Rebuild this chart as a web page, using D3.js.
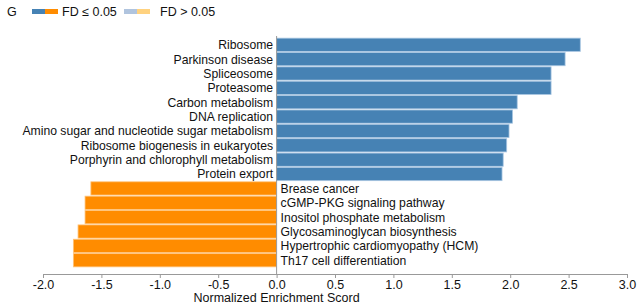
<!DOCTYPE html>
<html>
<head>
<meta charset="utf-8">
<script src="https://cdn.jsdelivr.net/npm/d3@7"></script>
<style>
  body { margin: 0; background: #fff; }
  text { font-family: "Liberation Sans", Arial, sans-serif; }
</style>
</head>
<body>
<div id="chart"></div>
<script>
// pathways, top to bottom
const pathways = [
  "Ribosome", "Parkinson disease", "Spliceosome", "Proteasome",
  "Carbon metabolism", "DNA replication",
  "Amino sugar and nucleotide sugar metabolism",
  "Ribosome biogenesis in eukaryotes",
  "Porphyrin and chlorophyll metabolism", "Protein export",
  "Brease cancer", "cGMP-PKG signaling pathway",
  "Inositol phosphate metabolism", "Glycosaminoglycan biosynthesis",
  "Hypertrophic cardiomyopathy (HCM)", "Th17 cell differentiation"
];
const nes = [
  2.60, 2.47, 2.35, 2.35, 2.06, 2.02, 1.99, 1.97, 1.94, 1.93,
  -1.59, -1.64, -1.64, -1.70, -1.74, -1.74
];
const xTicks = [-2.0, -1.5, -1.0, -0.5, 0.0, 0.5, 1.0, 1.5, 2.0, 2.5, 3.0];
const legendLabels = ["FD \u2264 0.05", "FD > 0.05"];
const legendColors = [["#4682b4", "#ff8c00"], ["#b0c4de", "#ffd27f"]];

const width = 637, height = 307;
const x0 = 43, x1 = 627;     // -2.0 .. 3.0
const yTop = 37, yBottom = 268, axisY = 274;

const data = pathways.map((p, i) => ({ name: p, value: nes[i] }));

const svg = d3.select("#chart").append("svg")
  .attr("width", width)
  .attr("height", height);

const xScale = d3.scaleLinear().domain([-2, 3]).range([x0, x1]);
const yScale = d3.scaleBand().domain(pathways).range([yTop, yBottom]).padding(0.08);

// bars
svg.selectAll(".bar")
  .data(data)
  .enter()
  .append("rect")
  .attr("class", "bar")
  .attr("x", d => xScale(Math.min(0, d.value)))
  .attr("y", d => yScale(d.name))
  .attr("width", d => Math.abs(xScale(d.value) - xScale(0)))
  .attr("height", yScale.bandwidth())
  .attr("fill", d => d.value > 0 ? "#4682b4" : "#ff8c00")
  .attr("stroke", d => d.value > 0 ? "#a9c6e2" : "#ffc37a")
  .attr("stroke-width", 0.8);

// labels next to the zero line
svg.selectAll(".label")
  .data(data)
  .enter()
  .append("text")
  .attr("class", "label")
  .attr("x", d => d.value > 0 ? xScale(0) - 3.5 : xScale(0) + 4)
  .attr("y", d => yScale(d.name) + yScale.bandwidth() / 2)
  .attr("dy", "0.36em")
  .attr("text-anchor", d => d.value > 0 ? "end" : "start")
  .style("font-size", "12.2px")
  .attr("fill", "#111")
  .text(d => d.name);

// zero line
svg.append("line")
  .attr("x1", xScale(0)).attr("x2", xScale(0))
  .attr("y1", yTop - 1).attr("y2", axisY)
  .attr("stroke", "#999")
  .attr("stroke-width", 1);

// x axis
const xAxis = svg.append("g")
  .attr("transform", `translate(0,${axisY})`)
  .call(d3.axisBottom(xScale).tickValues(xTicks).tickFormat(d => d.toFixed(1)).tickSize(4).tickSizeOuter(0));
xAxis.select(".domain").attr("stroke", "#999");
xAxis.selectAll(".tick line").attr("stroke", "#999");
xAxis.selectAll(".tick text")
  .style("font-size", "12.5px")
  .style("font-family", "'Liberation Sans', Arial, sans-serif")
  .attr("fill", "#111")
  .attr("y", 6);

svg.append("text")
  .attr("x", xScale(0))
  .attr("y", 302)
  .attr("text-anchor", "middle")
  .style("font-size", "12.5px")
  .attr("fill", "#111")
  .text("Normalized Enrichment Scord");

// panel letter and legend
svg.append("text")
  .attr("x", 7).attr("y", 16)
  .style("font-size", "12.5px")
  .attr("fill", "#111")
  .text("G");

const legendX = [32, 124];
const legendTextX = [62, 160];
legendLabels.forEach((label, i) => {
  legendColors[i].forEach((c, j) => {
    svg.append("rect")
      .attr("x", legendX[i] + j * 13).attr("y", 9)
      .attr("width", 13).attr("height", 5)
      .attr("fill", c);
  });
  svg.append("text")
    .attr("x", legendTextX[i]).attr("y", 16)
    .style("font-size", "12.5px")
    .attr("fill", "#111")
    .text(label);
});
</script>
</body>
</html>
